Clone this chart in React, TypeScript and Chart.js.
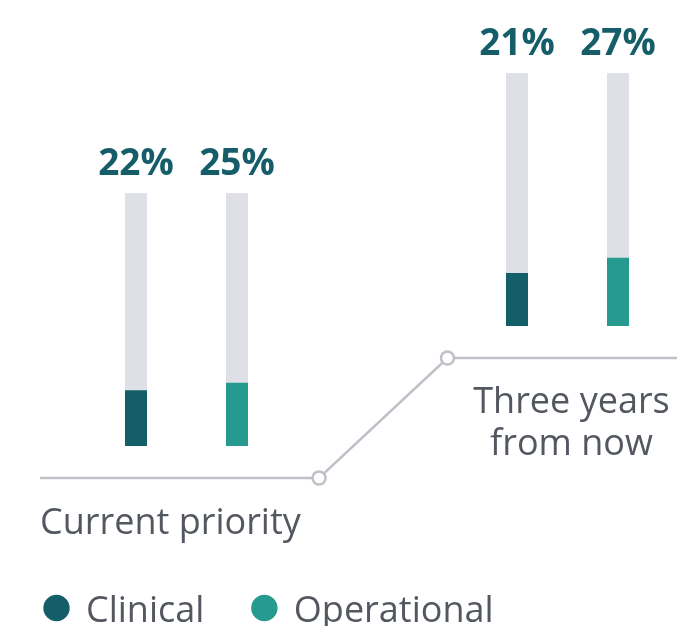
import React, { useEffect, useRef } from "react";
import { Chart, registerables } from "chart.js";

Chart.register(...registerables);

// ---- data ----
const categories = ["Current priority", "Three years from now"];
const categoryLines = [["Current priority"], ["Three years", "from now"]];
const seriesNames = ["Clinical", "Operational"];
const clinical = [22, 21];
const operational = [25, 27];
const stepLevel = [0, 1]; // each period sits one step higher
const trackMax = 100;

// ---- style / layout ----
const STEP = 47.4; // value units per step
const COLORS = {
  clinical: "#135e69",
  operational: "#279a8f",
  track: "#dfdfe8",
  line: "#bfc0c8",
  text: "#53575f",
  label: "#155e69",
};
const FONT = "'Open Sans', 'Noto Sans', sans-serif";

const base = (i: number) => stepLevel[i] * STEP;

const overlayPlugin = {
  id: "stepOverlay",
  afterDatasetsDraw(chart: any) {
    const { ctx } = chart;
    const xs = chart.scales.x;
    const ys = chart.scales.y;
    ctx.save();

    // step line
    const lineY = (i: number) => ys.getPixelForValue(base(i)) + 32;
    const x0 = 40;
    const j1 = xs.getPixelForValue(0.348);
    const j2 = xs.getPixelForValue(0.685);
    const x3 = chart.width;
    ctx.strokeStyle = COLORS.line;
    ctx.lineWidth = 2.5;
    ctx.beginPath();
    ctx.moveTo(x0, lineY(0));
    ctx.lineTo(j1, lineY(0));
    ctx.lineTo(j2, lineY(1));
    ctx.lineTo(x3, lineY(1));
    ctx.stroke();
    [
      [j1, lineY(0)],
      [j2, lineY(1)],
    ].forEach(([cx, cy]) => {
      ctx.beginPath();
      ctx.arc(cx, cy, 6.5, 0, Math.PI * 2);
      ctx.fillStyle = "#ffffff";
      ctx.fill();
      ctx.stroke();
    });

    // category labels
    ctx.fillStyle = COLORS.text;
    ctx.font = `36px ${FONT}`;
    ctx.textBaseline = "alphabetic";
    categoryLines[0].forEach((t, k) => {
      ctx.textAlign = "left";
      ctx.fillText(t, x0, lineY(0) + 56 + k * 41);
    });
    const cx2 = xs.getPixelForValue(1) + 4;
    categoryLines[1].forEach((t, k) => {
      ctx.textAlign = "center";
      ctx.fillText(t, cx2, lineY(1) + 55 + k * 42);
    });

    // percentage labels above tracks
    ctx.font = `bold 37px ${FONT}`;
    ctx.fillStyle = COLORS.label;
    ctx.textAlign = "center";
    const fillSets = [1, 3];
    fillSets.forEach((di) => {
      const meta = chart.getDatasetMeta(di);
      const values = di === 1 ? clinical : operational;
      meta.data.forEach((bar: any, i: number) => {
        const top = ys.getPixelForValue(base(i) + trackMax);
        ctx.fillText(`${values[i]}%`, bar.x, top - 18);
      });
    });

    // legend
    ctx.font = `36px ${FONT}`;
    ctx.textAlign = "left";
    const legendY = 608;
    let lx = 56.5;
    seriesNames.forEach((name, k) => {
      const color = k === 0 ? COLORS.clinical : COLORS.operational;
      ctx.beginPath();
      ctx.arc(lx, legendY, 13.2, 0, Math.PI * 2);
      ctx.fillStyle = color;
      ctx.fill();
      ctx.fillStyle = COLORS.text;
      ctx.fillText(name, lx + 29.5, legendY + 14);
      const w = ctx.measureText(name).width;
      lx = lx + 29.5 + w + 60;
    });

    ctx.restore();
  },
};

export default function App() {
  const ref = useRef<HTMLCanvasElement | null>(null);

  useEffect(() => {
    if (!ref.current) return;
    const chart = new Chart(ref.current, {
      type: "bar",
      data: {
        labels: categories,
        datasets: [
          {
            label: "Clinical track",
            data: categories.map((_, i) => [base(i), base(i) + trackMax]),
            backgroundColor: COLORS.track,
            stack: "clinical",
            order: 2,
          },
          {
            label: seriesNames[0],
            data: clinical.map((v, i) => [base(i), base(i) + v]),
            backgroundColor: COLORS.clinical,
            stack: "clinical",
            order: 1,
          },
          {
            label: "Operational track",
            data: categories.map((_, i) => [base(i), base(i) + trackMax]),
            backgroundColor: COLORS.track,
            stack: "operational",
            order: 2,
          },
          {
            label: seriesNames[1],
            data: operational.map((v, i) => [base(i), base(i) + v]),
            backgroundColor: COLORS.operational,
            stack: "operational",
            order: 1,
          },
        ] as any,
      },
      options: {
        responsive: false,
        animation: false,
        devicePixelRatio: 1,
        layout: { padding: { left: 186.5, right: 109.5, top: 15.9, bottom: 28.2 } },
        datasets: {
          bar: {
            categoryPercentage: 202 / 381,
            barPercentage: 22 / 101,
            borderSkipped: false,
            clip: false as any,
          },
        } as any,
        scales: {
          x: { type: "category", offset: false, display: false },
          y: { type: "linear", min: -60, max: 170, stacked: false, display: false },
        },
        plugins: {
          legend: { display: false },
          tooltip: { enabled: false },
        },
      },
      plugins: [overlayPlugin],
    });
    return () => chart.destroy();
  }, []);

  return (
    <div style={{ position: "fixed", left: 0, top: 0, width: 677, height: 626, background: "#fff" }}>
      <canvas ref={ref} width={677} height={626} style={{ width: 677, height: 626, display: "block" }} />
    </div>
  );
}
